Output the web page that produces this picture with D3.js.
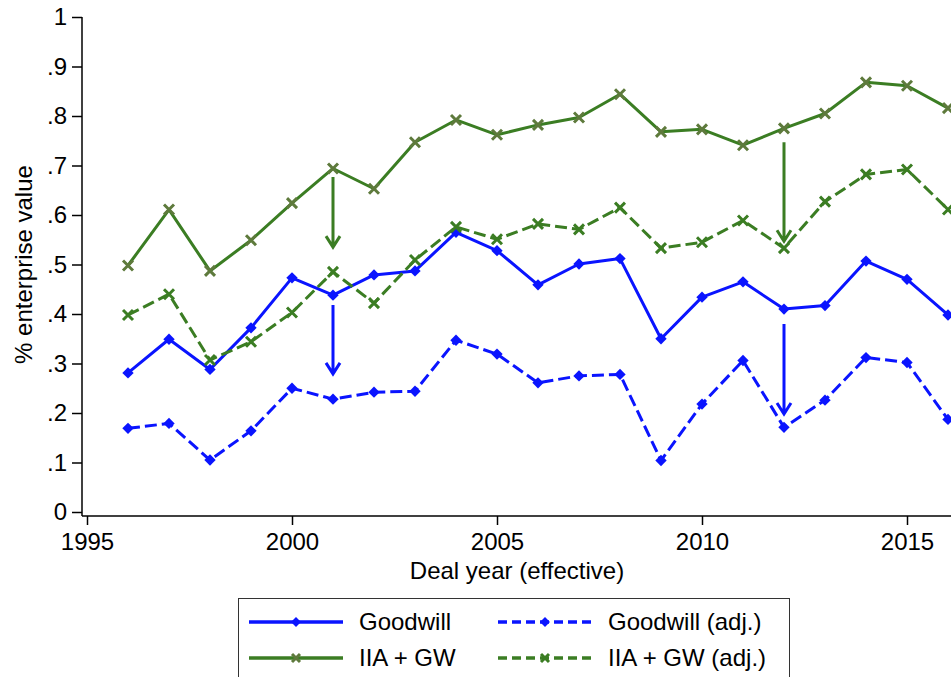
<!DOCTYPE html>
<html>
<head>
<meta charset="utf-8">
<script src="https://cdn.jsdelivr.net/npm/d3@7"></script>
<style>
  body { margin: 0; background: #fff; }
  text { font-family: "Liberation Sans", Arial, Helvetica, sans-serif; fill: #000; }
</style>
</head>
<body>
<div id="chart"></div>
<script>
// data
const years = [1996, 1997, 1998, 1999, 2000, 2001, 2002, 2003, 2004, 2005, 2006,
               2007, 2008, 2009, 2010, 2011, 2012, 2013, 2014, 2015, 2016];
const goodwill = [0.281, 0.349, 0.288, 0.372, 0.473, 0.438, 0.479, 0.487, 0.565, 0.528, 0.459,
                  0.501, 0.512, 0.350, 0.434, 0.465, 0.410, 0.417, 0.507, 0.470, 0.398];
const goodwillAdj = [0.169, 0.179, 0.105, 0.164, 0.250, 0.228, 0.242, 0.244, 0.347, 0.319, 0.261,
                     0.275, 0.278, 0.104, 0.218, 0.306, 0.171, 0.226, 0.312, 0.302, 0.187];
const iiaGw = [0.498, 0.611, 0.487, 0.549, 0.624, 0.694, 0.653, 0.747, 0.792, 0.762, 0.782,
               0.797, 0.844, 0.768, 0.773, 0.741, 0.775, 0.805, 0.868, 0.861, 0.816];
const iiaGwAdj = [0.398, 0.440, 0.307, 0.344, 0.403, 0.485, 0.422, 0.509, 0.576, 0.551, 0.582,
                  0.571, 0.615, 0.533, 0.545, 0.589, 0.533, 0.627, 0.682, 0.692, 0.611];

// arrows: year, from, to
const arrowYears = [2001, 2001, 2012, 2012];
const arrowFrom = [0.677, 0.418, 0.747, 0.380];
const arrowTo = [0.535, 0.279, 0.547, 0.198];
const arrowSeries = ['green', 'blue', 'green', 'blue'];

const xTicks = [1995, 2000, 2005, 2010, 2015];
const yTicks = [0, 0.1, 0.2, 0.3, 0.4, 0.5, 0.6, 0.7, 0.8, 0.9, 1];

const blue = '#0a14ff';
const green = '#3b7d23';
const olive = '#5e7a3c';

const W = 951, H = 677;
const svg = d3.select('#chart').append('svg')
  .attr('width', W)
  .attr('height', H);

const x = d3.scaleLinear().domain([1995, 2015]).range([87, 907]);
const y = d3.scaleLinear().domain([0, 1]).range([512, 17]);

const axisX = 82, axisY = 516;
const font = '"Liberation Sans", Arial, sans-serif';

// y axis
const yAxis = svg.append('g').attr('transform', `translate(${axisX},0)`)
  .call(d3.axisLeft(y).tickValues(yTicks).tickSize(10).tickPadding(5)
    .tickFormat(d => d === 0 ? '0' : d === 1 ? '1' : d3.format('.1f')(d).replace(/^0/, '')));
yAxis.select('.domain').attr('d', `M0,${y(1)}V${axisY}`).attr('stroke', '#000').attr('stroke-width', 1.5);
yAxis.selectAll('.tick line').attr('stroke', '#000').attr('stroke-width', 1.5);
yAxis.selectAll('.tick text').attr('font-size', 24).attr('font-family', font);

// x axis
const xAxis = svg.append('g').attr('transform', `translate(0,${axisY})`)
  .call(d3.axisBottom(x).tickValues(xTicks).tickSize(9).tickPadding(8).tickFormat(d3.format('d')));
xAxis.select('.domain').attr('d', `M${axisX},0H${W + 5}`).attr('stroke', '#000').attr('stroke-width', 1.5);
xAxis.selectAll('.tick line').attr('stroke', '#000').attr('stroke-width', 1.5);
xAxis.selectAll('.tick text').attr('font-size', 24).attr('font-family', font);

// axis titles
svg.append('text')
  .attr('transform', `translate(32,${(y(0) + y(1)) / 2}) rotate(-90)`)
  .attr('text-anchor', 'middle')
  .attr('font-size', 24)
  .text('% enterprise value');

svg.append('text')
  .attr('x', 517).attr('y', 579)
  .attr('text-anchor', 'middle')
  .attr('font-size', 24)
  .text('Deal year (effective)');

const series = [
  { values: goodwill, color: blue, mark: 'diamond', markColor: blue, dash: null },
  { values: goodwillAdj, color: blue, mark: 'diamond', markColor: blue, dash: '12,5' },
  { values: iiaGw, color: green, mark: 'x', markColor: olive, dash: null },
  { values: iiaGwAdj, color: green, mark: 'x', markColor: green, dash: '12,5' }
];

const line = d3.line().x(d => x(d[0])).y(d => y(d[1]));

function drawMark(g, mark, color, cx, cy, s) {
  if (mark === 'diamond') {
    g.append('rect')
      .attr('x', -s).attr('y', -s).attr('width', 2 * s).attr('height', 2 * s)
      .attr('transform', `translate(${cx},${cy}) rotate(45)`)
      .attr('fill', color);
  } else {
    g.append('path').attr('d', `M${cx - s},${cy - s}L${cx + s},${cy + s}M${cx - s},${cy + s}L${cx + s},${cy - s}`)
      .attr('stroke', color).attr('stroke-width', 3).attr('fill', 'none');
  }
}

const plot = svg.append('g');
series.forEach(s => {
  const pts = years.map((yr, i) => [yr, s.values[i]]);
  plot.append('path')
    .attr('d', line(pts))
    .attr('fill', 'none')
    .attr('stroke', s.color)
    .attr('stroke-width', 3)
    .attr('stroke-linejoin', 'round')
    .attr('stroke-dasharray', s.dash);
  const mg = plot.append('g');
  pts.forEach(p => drawMark(mg, s.mark, s.markColor, x(p[0]), y(p[1]), s.mark === 'diamond' ? 4 : 5));
});

// arrows
arrowYears.forEach((yr, i) => {
  const c = arrowSeries[i] === 'green' ? green : blue;
  const ax = x(yr), y0 = y(arrowFrom[i]), y1 = y(arrowTo[i]);
  svg.append('path')
    .attr('d', `M${ax},${y0}V${y1}M${ax - 7},${y1 - 11}L${ax},${y1}L${ax + 7},${y1 - 11}`)
    .attr('fill', 'none')
    .attr('stroke', c)
    .attr('stroke-width', 3);
});

// legend
const legend = svg.append('g');
legend.append('rect')
  .attr('x', 238.5).attr('y', 598.5)
  .attr('width', 551).attr('height', 100)
  .attr('fill', '#fff').attr('stroke', '#333').attr('stroke-width', 1);

const legendItems = [
  { label: 'Goodwill', s: series[0], lx: 249, ly: 622 },
  { label: 'Goodwill (adj.)', s: series[1], lx: 498, ly: 622 },
  { label: 'IIA + GW', s: series[2], lx: 249, ly: 658 },
  { label: 'IIA + GW (adj.)', s: series[3], lx: 498, ly: 658 }
];
legendItems.forEach(it => {
  legend.append('line')
    .attr('x1', it.lx).attr('x2', it.lx + 94)
    .attr('y1', it.ly).attr('y2', it.ly)
    .attr('stroke', it.s.color).attr('stroke-width', 3.5)
    .attr('stroke-dasharray', it.s.dash ? '9,5' : null);
  drawMark(legend, it.s.mark, it.s.markColor, it.lx + 47, it.ly, it.s.mark === 'diamond' ? 3.5 : 4);
  legend.append('text')
    .attr('x', it.lx + 110).attr('y', it.ly + 8)
    .attr('font-size', 24)
    .text(it.label);
});
</script>
</body>
</html>
